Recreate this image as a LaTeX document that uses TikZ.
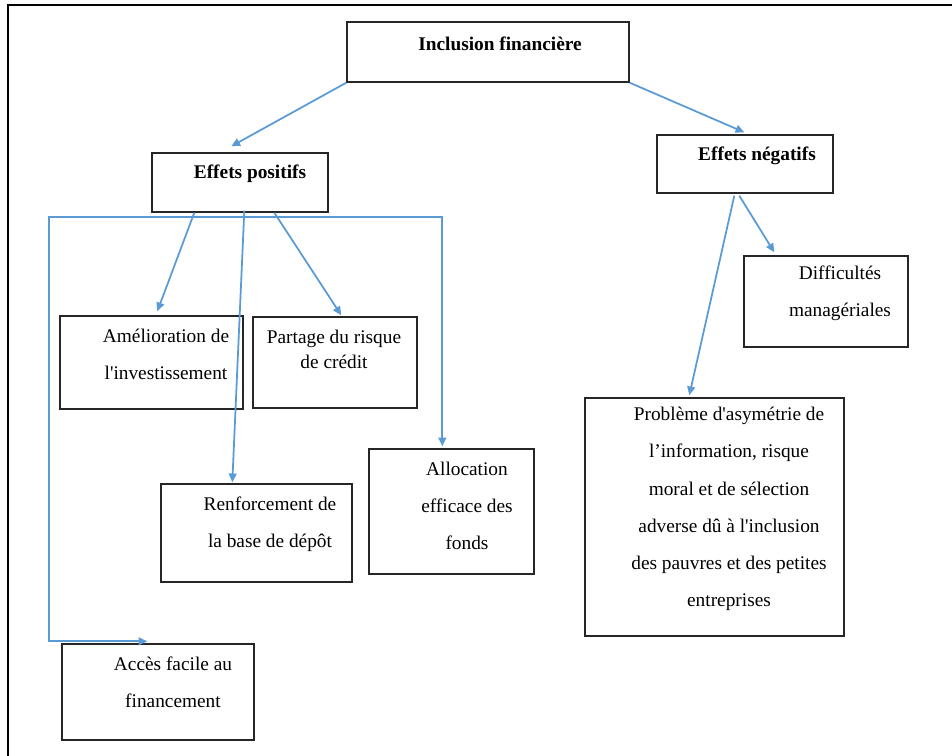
\documentclass[tikz,border=0pt]{standalone}
\usepackage{fontspec}
\setmainfont{Liberation Serif}
\usepackage{tikz}
\usetikzlibrary{positioning,calc,arrows.meta}
\definecolor{arrowblue}{RGB}{91,155,213}
\tikzstyle{box}=[draw=black!85, line width=0.8pt, inner sep=0pt]
\tikzstyle{sz}=[minimum width=#1*0.02cm]
\tikzstyle{ht}=[minimum height=#1*0.02cm]
\tikzstyle{txt}=[align=center, font=\fontsize{11}{21}\selectfont]
\tikzstyle{head}=[font=\fontsize{11}{13}\selectfont\bfseries]
\tikzstyle{arrow}=[-{Triangle[length=5pt,width=4.5pt]}, arrowblue, line width=1pt]

\begin{document}
\begin{tikzpicture}[x=0.02cm, y=-0.02cm]
            \useasboundingbox (0,0) rectangle (952,756);
            \draw[line width=1.3pt] (8,756) -- (8,5) -- (952,5);

            \node[box, sz=282, ht=60] (incl) at (488,52) {};
            \node[box, sz=176, ht=59] (pos) at (240,182.5) {};
            \node[box, sz=176, ht=58] (neg) at (745,164) {};
            \node[box, sz=183, ht=93] (amel) at (151.5,362.5) {};
            \node[box, sz=164, ht=91] (part) at (335,362.5) {};
            \node[box, sz=191, ht=98] (renf) at (256.5,533) {};
            \node[box, sz=165, ht=125] (alloc) at (451.5,511.5) {};
            \node[box, sz=192, ht=96] (acces) at (158,692) {};
            \node[box, sz=164, ht=91] (diff) at (826,301.5) {};
            \node[box, sz=259, ht=238] (prob) at (714.5,517) {};

            \node[head] (incl-t) at (500,44) {Inclusion financière};
            \node[head] (pos-t) at (250,174) {Effets positifs};
            \node[head] (neg-t) at (757,156) {Effets négatifs};
            \node[txt] (amel-t) at (166,354) {Amélioration de\\l\textquotesingle investissement};
            \node[txt, font=\fontsize{11}{14}\selectfont] (part-t) at (334,349.5) {Partage du risque\\de crédit};
            \node[txt] (renf-t) at (270,524) {Renforcement de\\la base de dépôt};
            \node[txt] (alloc-t) at (467,505.5) {Allocation\\efficace des\\fonds};
            \node[txt] (acces-t) at (173,682) {Accès facile au\\financement};
            \node[txt] (diff-t) at (840,293.5) {Difficultés\\managériales};
            \node[txt, font=\fontsize{11}{21.2}\selectfont] (prob-t) at (729,509) {Problème d\textquotesingle asymétrie de\\l’information, risque\\moral et de sélection\\adverse dû à l\textquotesingle inclusion\\des pauvres et des petites\\entreprises};

            % connectors
            \coordinate (bus) at ($(pos.south west)+(93,4)$);
            \coordinate (busleft) at ($(acces.north west)+(-12,-2)$);

            \draw[arrow] (incl.south west) -- ($(pos.north west)+(80,-6)$);
            \draw[arrow] (incl.south east) -- ($(neg.north west)+(88,-2)$);
            \draw[arrow] ($(pos.south west)+(43,0)$) -- ($(amel.north west)+(98,-4)$);
            \draw[arrow] ($(pos.south west)+(123,0)$) -- ($(part.north west)+(89,-1)$);
            \draw[arrow] ($(pos.south west)+(93,-2)$) -- ($(renf.north west)+(72,-1)$);
            \draw[arrow] (bus) -| ($(alloc.north west)+(74,-2)$);
            \draw[arrow] (bus) -| (busleft) -- ($(acces.north west)+(86,-2)$);
            \draw[arrow] ($(neg.south west)+(78,2)$) -- ($(prob.north west)+(105,-2)$);
            \draw[arrow] ($(neg.south west)+(83,2)$) -- ($(diff.north west)+(31,-3)$);
        \end{tikzpicture}
\end{document}
